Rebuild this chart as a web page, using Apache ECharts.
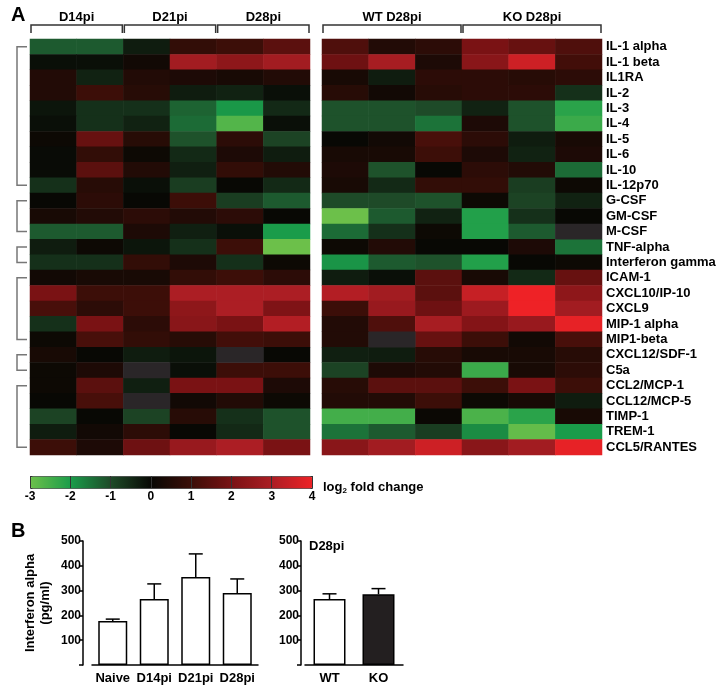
<!DOCTYPE html>
<html><head><meta charset="utf-8">
<script src="https://cdn.jsdelivr.net/npm/echarts@6/dist/echarts.min.js"></script>
<style>html,body{margin:0;padding:0;background:#fff}#c{width:721px;height:686px}</style>
</head><body><div id="c"></div>
<script>
const FONT = 'Liberation Sans, Arial, sans-serif';
const rowNames = ['IL-1 alpha','IL-1 beta','IL1RA','IL-2','IL-3','IL-4','IL-5','IL-6','IL-10','IL-12p70',
  'G-CSF','GM-CSF','M-CSF','TNF-alpha','Interferon gamma','ICAM-1','CXCL10/IP-10','CXCL9','MIP-1 alpha',
  'MIP1-beta','CXCL12/SDF-1','C5a','CCL2/MCP-1','CCL12/MCP-5','TIMP-1','TREM-1','CCL5/RANTES'];
const leftCols = ['D14pi a','D14pi b','D21pi a','D21pi b','D28pi a','D28pi b'];
const rightCols = ['WT a','WT b','WT c','KO a','KO b','KO c'];
const leftGroups = ['D14pi','D21pi','D28pi'];
const rightGroups = ['WT D28pi','KO D28pi'];
// row groups: [first row, last row]
const rowGroups = [[0,9],[10,12],[13,14],[15,19],[20,21],[22,26]];
// log2 fold change, null = no data (grey)
const leftValues = [
  [-1.2,-1.2,-0.3,0.8,1.0,1.5],
  [-0.1,-0.1,0.2,2.8,2.4,2.8],
  [0.5,-0.4,0.5,0.4,0.3,0.5],
  [0.5,1.0,0.6,-0.3,-0.4,-0.1],
  [-0.2,-0.6,-0.6,-1.3,-1.95,-0.5],
  [-0.1,-0.6,-0.4,-1.4,-2.7,-0.1],
  [0.1,1.7,0.6,-1.1,0.7,-0.9],
  [-0.05,0.8,0.1,-0.5,0.4,-0.3],
  [-0.05,1.5,0.5,-0.35,0.8,0.5],
  [-0.6,0.6,-0.1,-0.8,0.0,-0.5],
  [0.0,0.7,0.0,1.0,-0.8,-1.2],
  [0.3,0.5,0.7,0.5,0.7,0.0],
  [-1.2,-1.2,0.4,-0.35,-0.1,-2.0],
  [-0.3,0.1,-0.2,-0.6,1.0,-3.0],
  [-0.6,-0.6,0.8,0.4,-0.6,0.1],
  [0.2,0.3,0.3,0.8,1.0,0.7],
  [2.0,1.0,1.0,3.0,3.0,3.0],
  [1.2,0.7,1.0,2.4,3.0,2.1],
  [-0.6,2.0,0.7,2.3,2.0,3.1],
  [0.1,1.2,0.8,0.6,1.1,1.0],
  [0.3,0.0,-0.3,-0.2,null,0.0],
  [0.1,0.4,null,-0.1,1.0,1.0],
  [0.1,1.5,-0.35,2.0,2.0,0.4],
  [0.0,1.2,null,0.2,0.5,0.1],
  [-0.9,0.0,-0.9,0.6,-0.6,-1.1],
  [-0.3,0.2,0.7,0.0,-0.5,-1.1],
  [1.0,0.4,1.8,2.6,3.0,2.0]
];
const rightValues = [
  [1.3,0.5,0.7,2.0,1.7,1.3],
  [1.8,2.9,0.4,2.3,3.5,1.1],
  [0.3,-0.3,0.7,0.7,0.6,0.7],
  [0.6,0.2,0.6,0.7,0.7,-0.6],
  [-1.1,-1.1,-1.0,-0.4,-1.1,-2.2],
  [-1.1,-1.1,-1.5,0.4,-1.1,-2.4],
  [0.0,0.2,1.2,0.7,-0.3,0.3],
  [0.3,0.3,1.0,0.4,-0.4,0.4],
  [0.4,-1.1,0.0,0.7,0.5,-1.4],
  [0.3,-0.5,0.8,0.8,-0.8,0.1],
  [-1.0,-1.0,-1.1,0.1,-0.9,-0.4],
  [-3.0,-1.2,-0.4,-2.1,-0.6,0.0],
  [-1.4,-0.6,0.1,-2.1,-1.2,null],
  [0.1,0.5,0.0,0.0,0.4,-1.5],
  [-1.9,-1.2,-1.1,-2.1,0.0,0.1],
  [-0.3,-0.1,1.5,0.3,-0.5,1.7],
  [3.1,2.8,1.5,3.4,4.0,2.4],
  [1.0,2.6,1.8,2.7,4.0,2.8],
  [0.5,1.3,2.9,2.2,2.6,3.9],
  [0.5,null,1.7,1.0,0.2,1.2],
  [-0.35,-0.3,0.6,0.3,0.3,0.6],
  [-0.9,0.4,0.5,-2.4,0.3,0.7],
  [0.6,1.5,1.5,1.0,2.0,1.0],
  [0.5,0.5,1.0,0.1,0.3,-0.3],
  [-2.5,-2.5,0.05,-2.6,-2.2,0.3],
  [-1.5,-1.2,-0.8,-1.8,-2.9,-2.0],
  [2.3,2.8,3.5,2.3,2.8,3.9]
];
const scaleMin = -3, scaleMax = 4;

const barCats1 = ['Naive','D14pi','D21pi','D28pi'];
const barMeans1 = [177,266,355,290];
const barUpper1 = [185,327,448,347];
const barCats2 = ['WT','KO'];
const barMeans2 = [266,285];
const barUpper2 = [287,308];
const barFill2 = ['#ffffff','#231f20'];

function cells(m){const out=[];m.forEach((r,ri)=>r.forEach((v,ci)=>{if(v!==null)out.push([ci,ri,v]);}));return out;}
function naCells(m){const out=[];m.forEach((r,ri)=>r.forEach((v,ci)=>{if(v===null)out.push([ci,ri,0]);}));return out;}

const bold = (s)=>({fontFamily:FONT,fontWeight:'bold',fontSize:s,color:'#000'});
const hiddenCat = (data,grid)=>({type:'category',data,gridIndex:grid,show:false});

function errRender(params, api){
  const x=api.value(0), m=api.value(1), u=api.value(2);
  const p0=api.coord([x,m]), p1=api.coord([x,u]);
  return {type:'group',children:[
    {type:'line',shape:{x1:p0[0],y1:p0[1],x2:p1[0],y2:p1[1]},style:{stroke:'#000',lineWidth:1.5}},
    {type:'line',shape:{x1:p1[0]-7,y1:p1[1],x2:p1[0]+7,y2:p1[1]},style:{stroke:'#000',lineWidth:1.5}}
  ]};
}
function bracketRender(params, api){
  const a=api.coord([0,api.value(0)]), b=api.coord([0,api.value(1)]);
  const s=api.size([1,1]);
  const x0=a[0]-s[0]/2-13;
  return {type:'polyline',shape:{points:[[x0+10,a[1]],[x0,a[1]],[x0,b[1]],[x0+10,b[1]]]},
    style:{stroke:'#777',lineWidth:1.5,fill:null}};
}
// column group brackets drawn on the group axis (category index = group)
function colBracketRender(params, api){
  const i=api.value(0);
  const c=api.coord([i,0]);
  const s=api.size([1,1]);
  const top=params.coordSys.y-14;
  const x1=c[0]-s[0]/2+1, x2=c[0]+s[0]/2-1;
  return {type:'polyline',shape:{points:[[x1,top+8],[x1,top],[x2,top],[x2,top+8]]},
    style:{stroke:'#333',lineWidth:1.5,fill:null}};
}

const chart = echarts.init(document.getElementById('c'));
chart.setOption({
  animation:false,
  backgroundColor:'#fff',
  title:[
    {text:'A',left:6,top:0,textStyle:bold(20)},
    {text:'B',left:6,top:516,textStyle:bold(20)},
    {text:'{a|log}{s|2}{a| fold change}',left:318,top:474,
      textStyle:{rich:{a:bold(13),s:Object.assign(bold(8),{padding:[8,0,0,0]})}}},
    {text:'D28pi',left:304,top:535,textStyle:bold(13)}
  ],
  grid:[
    {left:30,top:39,width:280,height:416},
    {left:322,top:39,width:280,height:416},
    {left:30,top:476,width:282,height:12},
    {left:92,top:541,width:166,height:124},
    {left:305,top:541,width:98,height:124}
  ],
  xAxis:[
    hiddenCat(leftCols,0),
    {type:'category',data:leftGroups,gridIndex:0,position:'top',offset:14,
      axisLine:{show:false},axisTick:{show:false},
      axisLabel:Object.assign(bold(13),{margin:1,interval:0})},
    hiddenCat(rightCols,1),
    {type:'category',data:rightGroups,gridIndex:1,position:'top',offset:14,
      axisLine:{show:false},axisTick:{show:false},
      axisLabel:Object.assign(bold(13),{margin:1,interval:0})},
    {type:'value',gridIndex:2,min:scaleMin,max:scaleMax,interval:1,z:10,
      axisLine:{show:false},axisTick:{show:false},
      splitLine:{show:true,lineStyle:{color:'#333',width:1}},
      axisLabel:Object.assign(bold(12),{margin:3})},
    {type:'category',data:barCats1,gridIndex:3,
      axisLine:{lineStyle:{color:'#000',width:1.5}},axisTick:{alignWithLabel:true,length:4,lineStyle:{color:'#000',width:1.5}},
      axisLabel:Object.assign(bold(13),{margin:7,interval:0})},
    {type:'category',data:barCats2,gridIndex:4,
      axisLine:{lineStyle:{color:'#000',width:1.5}},axisTick:{alignWithLabel:true,length:4,lineStyle:{color:'#000',width:1.5}},
      axisLabel:Object.assign(bold(13),{margin:7,interval:0})}
  ],
  yAxis:[
    {type:'category',data:rowNames,gridIndex:0,inverse:true,show:false},
    {type:'category',data:rowNames,gridIndex:1,inverse:true,position:'right',
      axisLine:{show:false},axisTick:{show:false},axisLabel:Object.assign(bold(13),{margin:4,interval:0})},
    {type:'category',data:['x'],gridIndex:2,show:false},
    {type:'value',gridIndex:3,min:0,max:500,interval:100,offset:9,
      axisLine:{show:true,lineStyle:{color:'#000',width:1.5}},axisTick:{show:true,length:4,lineStyle:{color:'#000',width:1.5}},
      splitLine:{show:false},axisLabel:Object.assign(bold(12),{margin:2,formatter:v=>v===0?'':v}),
      name:'Interferon alpha\n(pg/ml)',nameLocation:'middle',nameGap:30,
      nameTextStyle:Object.assign(bold(13),{lineHeight:15})},
    {type:'value',gridIndex:4,min:0,max:500,interval:100,offset:4,
      axisLine:{show:true,lineStyle:{color:'#000',width:1.5}},axisTick:{show:true,length:4,lineStyle:{color:'#000',width:1.5}},
      splitLine:{show:false},axisLabel:Object.assign(bold(12),{margin:2,formatter:v=>v===0?'':v})}
  ],
  visualMap:{type:'continuous',min:scaleMin,max:scaleMax,seriesIndex:[0,1],orient:'horizontal',
    left:30,top:476,itemWidth:12,itemHeight:282,padding:0,calculable:false,hoverLink:false,
    borderColor:'#333',borderWidth:1,text:null,
    inRange:{color:['#6cc04a','#1a9c4a','#1e4a28','#080804','#3c0e08','#7a1214','#ac1e24','#ee2226']}},
  series:[
    {type:'heatmap',xAxisIndex:0,yAxisIndex:0,data:cells(leftValues)},
    {type:'heatmap',xAxisIndex:2,yAxisIndex:1,data:cells(rightValues)},
    {type:'heatmap',xAxisIndex:0,yAxisIndex:0,data:naCells(leftValues),itemStyle:{color:'#2a2628'}},
    {type:'heatmap',xAxisIndex:2,yAxisIndex:1,data:naCells(rightValues),itemStyle:{color:'#2a2628'}},
    {type:'custom',xAxisIndex:0,yAxisIndex:0,clip:false,renderItem:bracketRender,data:rowGroups},
    {type:'custom',xAxisIndex:1,yAxisIndex:0,clip:false,renderItem:colBracketRender,data:leftGroups.map((g,i)=>[i])},
    {type:'custom',xAxisIndex:3,yAxisIndex:1,clip:false,renderItem:colBracketRender,data:rightGroups.map((g,i)=>[i])},
    {type:'bar',xAxisIndex:5,yAxisIndex:3,data:barMeans1,barWidth:29,
      itemStyle:{color:'#fff',borderColor:'#000',borderWidth:1.5}},
    {type:'custom',xAxisIndex:5,yAxisIndex:3,renderItem:errRender,z:3,
      data:barMeans1.map((m,i)=>[i,m,barUpper1[i]])},
    {type:'bar',xAxisIndex:6,yAxisIndex:4,barWidth:32,
      data:barMeans2.map((m,i)=>({value:m,itemStyle:{color:barFill2[i]}})),
      itemStyle:{borderColor:'#000',borderWidth:1.5}},
    {type:'custom',xAxisIndex:6,yAxisIndex:4,renderItem:errRender,z:3,
      data:barMeans2.map((m,i)=>[i,m,barUpper2[i]])}
  ]
});
</script></body></html>
